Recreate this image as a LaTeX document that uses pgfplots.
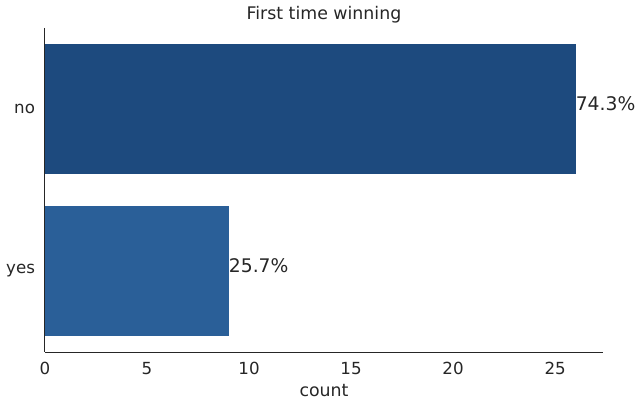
\documentclass[border=0pt]{standalone}
\usepackage{fontspec}
\setmainfont{DejaVu Sans}
\usepackage{pgfplots}
\pgfplotsset{compat=1.18}
\definecolor{barno}{HTML}{1D4A7E}
\definecolor{baryes}{HTML}{2A5F98}
\definecolor{ink}{HTML}{262626}
\begin{document}
\fontsize{12}{14}\selectfont
\begin{tikzpicture}
\begin{axis}[
    xbar,
    scale only axis,
    width=401.8pt,
    height=233.3pt,
    xmin=0, xmax=27.35,
    ymin=-0.5, ymax=1.5,
    y dir=reverse,
    bar width=0.8,
    bar shift=0pt,
    axis lines*=left,
    axis line style={ink, line width=0.7pt},
    ytick={0,1},
    yticklabels={no, yes},
    xtick={0,5,10,15,20,25},
    major tick length=0pt,
    tick label style={ink, font=\fontsize{12}{14}\selectfont},
    /pgf/number format/assume math mode=true,
    xticklabel style={yshift=-3pt},
    yticklabel style={xshift=-3pt},
    xlabel={count},
    xlabel style={ink, font=\fontsize{12.5}{14}\selectfont, yshift=1pt},
    title={First time winning},
    title style={ink, font=\fontsize{12.5}{14}\selectfont, yshift=-7pt},
    nodes near coords,
    point meta=explicit symbolic,
    every node near coord/.append style={ink, anchor=west, inner sep=1pt, xshift=-1pt, yshift=4pt, font=\fontsize{13.5}{15}\selectfont},
    clip=false,
]
\addplot[fill=barno, draw=none] coordinates {(26,0) [74.3\%]};
\addplot[fill=baryes, draw=none] coordinates {(9,1) [25.7\%]};
\coordinate (bl) at (rel axis cs:-0.0806,-0.179);
\coordinate (tr) at (rel axis cs:1.068,1.0864);
\end{axis}
\path (bl) rectangle (tr);
\end{tikzpicture}
\end{document}
